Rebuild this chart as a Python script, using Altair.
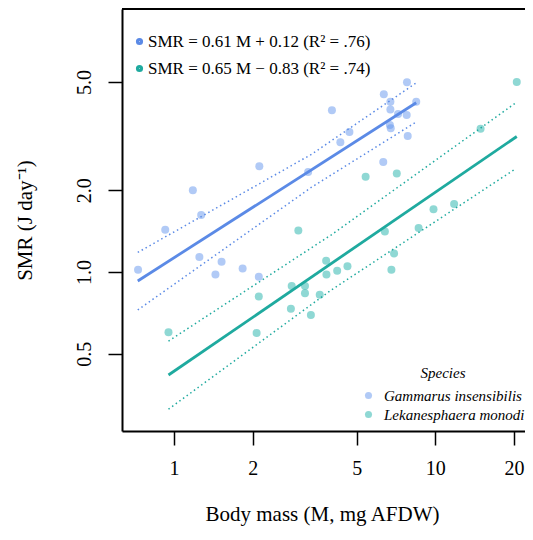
import altair as alt
import pandas as pd

species_names = ["Gammarus insensibilis", "Lekanesphaera monodi"]
eq_labels = ["SMR = 0.61 M + 0.12 (R² = .76)", "SMR = 0.65 M − 0.83 (R² = .74)"]

x_ticks = [1, 2, 5, 10, 20]
y_ticks = [0.5, 1.0, 2.0, 5.0]

gam_mass = [7.79, 6.35, 6.73, 8.45, 6.73, 4.02, 7.20, 7.77, 4.69, 6.70, 6.75, 4.33, 7.84,
            6.32, 2.12, 3.26, 1.18, 1.27, 0.925, 0.728, 1.25, 1.52, 1.44, 1.83, 2.11]
gam_smr = [4.99, 4.50, 4.23, 4.23, 3.96, 3.93, 3.81, 3.78, 3.27, 3.47, 3.38, 3.00, 3.16,
           2.54, 2.45, 2.33, 2.00, 1.62, 1.43, 1.02, 1.135, 1.09, 0.98, 1.03, 0.96]
lek_mass = [20.5, 14.9, 5.41, 7.12, 2.99, 6.41, 9.84, 11.8, 8.63, 6.95, 6.79, 3.82, 3.83,
            4.21, 4.61, 2.82, 3.17, 3.17, 3.61, 2.11, 2.80, 3.34, 0.952, 2.07]
lek_smr = [5.00, 3.36, 2.24, 2.30, 1.42, 1.41, 1.70, 1.78, 1.45, 1.17, 1.02, 1.10, 0.98,
           1.01, 1.05, 0.888, 0.888, 0.835, 0.825, 0.812, 0.733, 0.695, 0.600, 0.597]

# fitted lines
gam_fit_mass = [0.726, 8.45]
gam_fit_smr = [0.927, 4.19]
lek_fit_mass = [0.952, 20.5]
lek_fit_smr = [0.418, 3.15]

# confidence bands (dotted)
gam_ci_mass = [0.726, 3.36, 8.40]
gam_ci_upper = [1.18, 2.71, 4.94]
gam_ci_lower = [0.725, 2.05, 3.55]
lek_ci_mass = [0.952, 4.0, 20.2]
lek_ci_upper = [0.557, 1.37, 4.17]
lek_ci_lower = [0.313, 0.859, 2.39]

blue_line = "#5b8ae6"
teal_line = "#1faa9f"
blue_pt = "#6495ED"
teal_pt = "#20B2AA"
font = "Liberation Serif"

points = pd.DataFrame({
    "mass": gam_mass + lek_mass,
    "smr": gam_smr + lek_smr,
    "species": [species_names[0]] * len(gam_mass) + [species_names[1]] * len(lek_mass),
})
fits = pd.DataFrame({
    "mass": gam_fit_mass + lek_fit_mass,
    "smr": gam_fit_smr + lek_fit_smr,
    "eq": [eq_labels[0]] * 2 + [eq_labels[1]] * 2,
})
ci_rows = []
for sp, ms, up, lo in [(species_names[0], gam_ci_mass, gam_ci_upper, gam_ci_lower),
                       (species_names[1], lek_ci_mass, lek_ci_upper, lek_ci_lower)]:
    for m, u, l in zip(ms, up, lo):
        ci_rows.append({"mass": m, "smr": u, "species": sp, "bound": sp + " up"})
        ci_rows.append({"mass": m, "smr": l, "species": sp, "bound": sp + " lo"})
ci = pd.DataFrame(ci_rows)

W, H = 403, 422
xscale = alt.Scale(type="log", domain=[0.632, 22.04], nice=False)
yscale = alt.Scale(type="log", domain=[0.2602, 9.27], nice=False)

x_axis = alt.Axis(values=x_ticks, format="d", tickSize=14, tickWidth=1.5, tickColor="black",
                  domainColor="black", domainWidth=2, labelFontSize=20, labelFont=font,
                  labelPadding=13, labelColor="black", title="Body mass (M, mg AFDW)",
                  titleFont=font, titleFontSize=21, titleFontWeight="normal", titleColor="black",
                  titleX=200, titleY=83, titleBaseline="middle", grid=False, labelFlush=False)
y_axis = alt.Axis(values=y_ticks, format=".1f", tickSize=14, tickWidth=1.5, tickColor="black",
                  domainColor="black", domainWidth=2, labelFontSize=20, labelFont=font,
                  labelPadding=14, labelColor="black", labelAngle=270, labelAlign="center",
                  title="SMR (J day⁻¹)", titleFont=font, titleFontSize=21,
                  titleFontWeight="normal", titleColor="black", titleAngle=270,
                  titleX=-97, titleY=H / 2, titleBaseline="middle", titleAlign="center",
                  grid=False, labelFlush=False)

pts = alt.Chart(points).mark_circle(size=64, opacity=0.5).encode(
    x=alt.X("mass:Q", scale=xscale, axis=x_axis),
    y=alt.Y("smr:Q", scale=yscale, axis=y_axis),
    fill=alt.Fill("species:N", scale=alt.Scale(domain=species_names, range=[blue_pt, teal_pt]),
                  legend=alt.Legend(title="Species", orient="none", legendX=239, legendY=357,
                                    titleFont=font, titleFontStyle="italic", titleFontWeight="normal",
                                    titleFontSize=15, titleColor="black", titleAnchor="middle",
                                    titlePadding=7, labelFont=font, labelFontStyle="italic",
                                    labelFontSize=15, labelColor="black", labelOffset=8,
                                    symbolType="circle", symbolSize=50, symbolOpacity=0.5,
                                    rowPadding=3, padding=0, labelLimit=300)),
)

ci_lines = alt.Chart(ci).mark_line(strokeDash=[1.5, 3], strokeWidth=1.5).encode(
    x=alt.X("mass:Q", scale=xscale),
    y=alt.Y("smr:Q", scale=yscale),
    color=alt.Color("species:N", scale=alt.Scale(domain=species_names, range=[blue_line, teal_line]),
                    legend=None),
    detail="bound:N",
)

fit_lines = alt.Chart(fits).mark_line(strokeWidth=2.8).encode(
    x=alt.X("mass:Q", scale=xscale),
    y=alt.Y("smr:Q", scale=yscale),
    stroke=alt.Stroke("eq:N", scale=alt.Scale(domain=eq_labels, range=[blue_line, teal_line]),
                      legend=alt.Legend(title=None, orient="none", legendX=9, legendY=24,
                                        labelFont=font, labelFontSize=17, labelColor="black",
                                        labelOffset=0, symbolType="circle", symbolSize=10,
                                        symbolStrokeWidth=4, rowPadding=6, padding=0,
                                        labelLimit=400)),
    detail="eq:N",
)

top_border = alt.Chart(pd.DataFrame({"v": [0]})).mark_rule(color="black", strokeWidth=2).encode(
    x=alt.value(0), x2=alt.value(W), y=alt.value(0)
)

chart = alt.layer(pts, ci_lines, fit_lines, top_border).resolve_scale(
    color="independent", fill="independent", stroke="independent"
).properties(
    width=W, height=H,
    autosize=alt.AutoSizeParams(type="none"),
    padding={"left": 114, "top": 1, "right": 0, "bottom": 95},
).configure_view(stroke=None)

chart.save("out.html", embed_options={"renderer": "svg", "actions": False})
